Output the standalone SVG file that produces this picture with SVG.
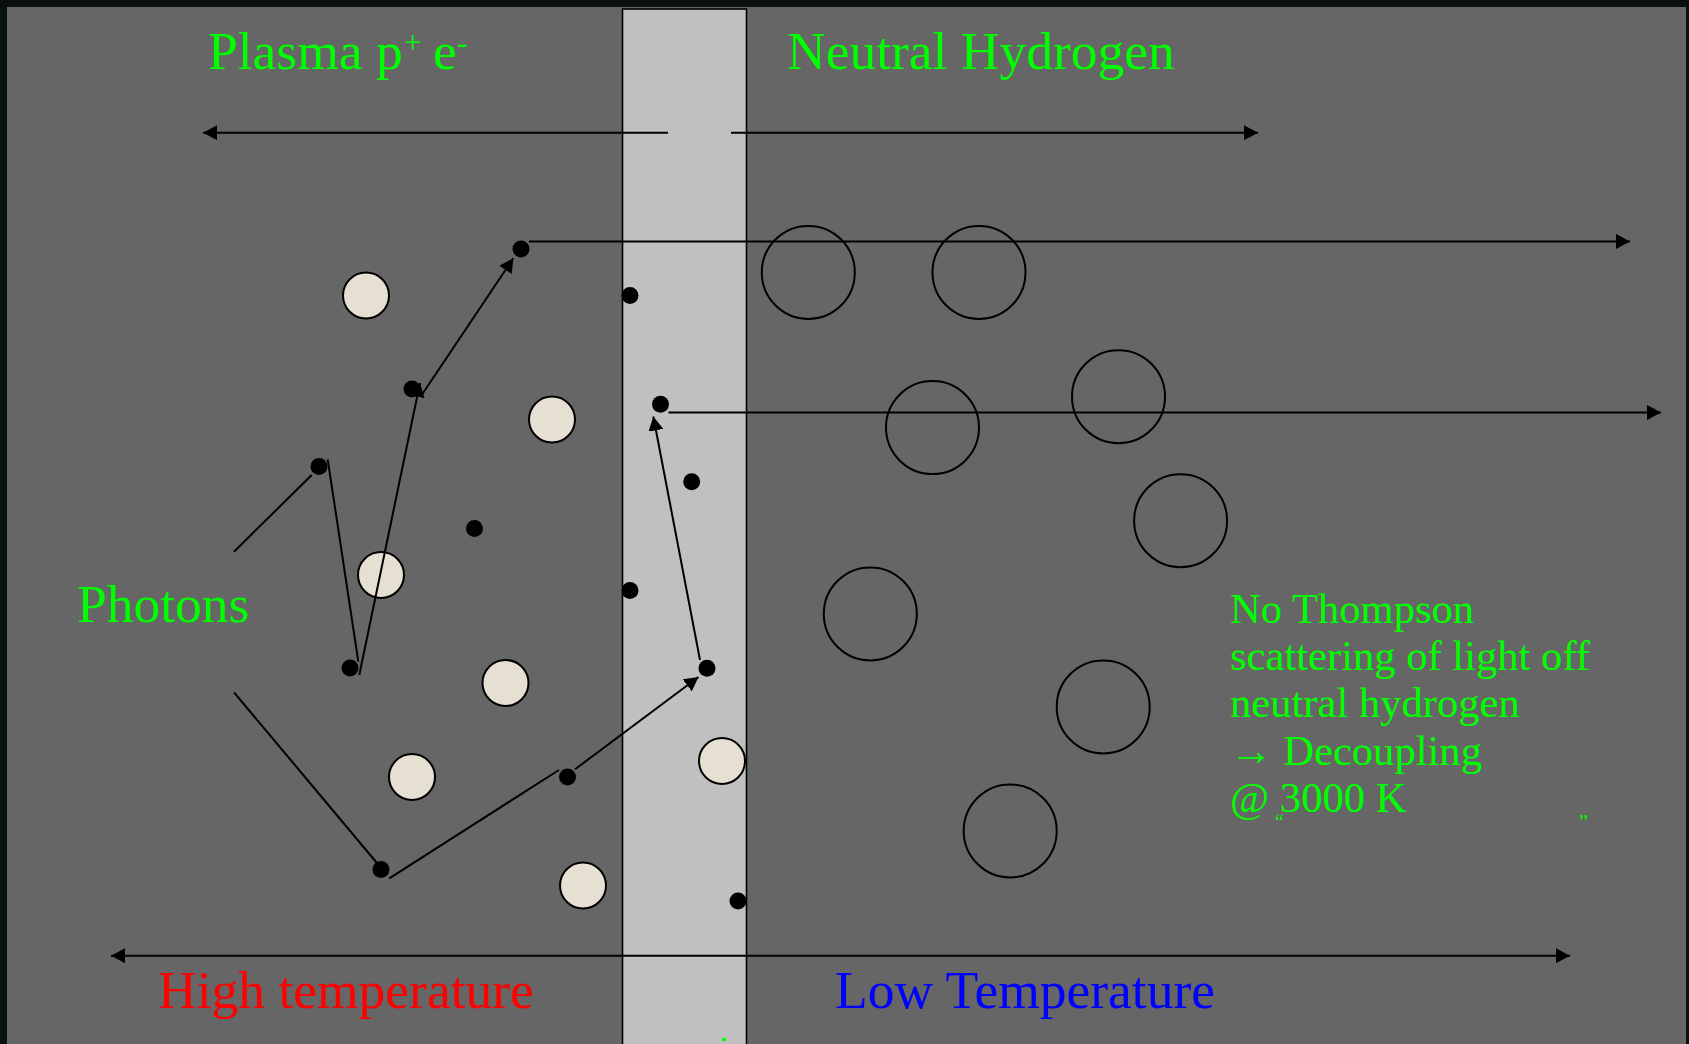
<svg xmlns="http://www.w3.org/2000/svg" width="1689" height="1044" viewBox="0 0 1689 1044">
  <style>
    .lbl { font-family: "Liberation Serif", "Times New Roman", serif; font-size: 53.5px; }
    .note { font-family: "Liberation Serif", "Times New Roman", serif; font-size: 42.6px; fill: #00ff00; }
    .quote { font-family: "Liberation Serif", "Times New Roman", serif; font-size: 20px; fill: #00ff00; }
    .green { fill: #00ff00; }
    .dot { fill: #000000; }
    .ion { fill: #e6e0d3; stroke: #000000; stroke-width: 2; }
    .atom { fill: none; stroke: #000000; stroke-width: 2; }
    .ray { stroke: #000000; stroke-width: 2; fill: none; }
  </style>
  <defs>
    <marker id="head" markerUnits="userSpaceOnUse" markerWidth="15" markerHeight="15" refX="14" refY="7.5" orient="auto-start-reverse">
      <path d="M0,0 L14,7.5 L0,15 z" fill="#000000"/>
    </marker>
  </defs>

  <!-- backdrop and panels -->
  <rect x="0" y="0" width="1689" height="1044" fill="#08110b"/>
  <rect x="7" y="7" width="1679" height="1040" fill="#666666"/>
  <rect id="transition-band" x="622.5" y="9" width="124" height="1040" fill="#c0c0c0" stroke="#000000" stroke-width="1.6"/>

  <!-- region titles -->
  <g id="title-plasma">
    <text class="lbl green" x="208" y="69">Plasma p<tspan x="404" dy="-16" font-size="31">+</tspan><tspan x="433" dy="16">e</tspan><tspan x="457" dy="-16" font-size="31">-</tspan></text>
  </g>
  <g id="title-neutral">
    <text class="lbl green" x="787" y="69">Neutral Hydrogen</text>
  </g>
  <g id="label-photons">
    <text class="lbl green" x="77" y="622">Photons</text>
  </g>
  <g id="label-high">
    <text class="lbl" x="158" y="1008" fill="#ff0000">High temperature</text>
  </g>
  <g id="label-low">
    <text class="lbl" x="835" y="1008" fill="#0000ff">Low Temperature</text>
  </g>
  <g id="note-decoupling">
    <text class="note" x="1230" y="623">No Thompson</text>
    <text class="note" x="1230" y="670">scattering of light off</text>
    <text class="note" x="1230" y="717">neutral hydrogen</text>
    <text class="note" x="1230" y="765">→ Decoupling</text>
    <text class="note" x="1230" y="812">@ 3000 K</text>
    <text class="quote" x="1275" y="829">“</text>
    <text class="quote" x="1579" y="829">”</text>
  </g>
  <rect x="722" y="1038" width="4" height="3" fill="#00ff00"/>

  <!-- protons (plasma side) -->
  <g id="protons">
    <circle class="ion" cx="366" cy="295.5" r="23"/>
    <circle class="ion" cx="552" cy="419.5" r="23"/>
    <circle class="ion" cx="381" cy="575" r="23"/>
    <circle class="ion" cx="505.5" cy="683" r="23"/>
    <circle class="ion" cx="412" cy="777" r="23"/>
    <circle class="ion" cx="583" cy="885.5" r="23"/>
    <circle class="ion" cx="722" cy="761" r="23"/>
  </g>

  <!-- electrons -->
  <g id="electrons">
    <circle class="dot" cx="521" cy="249" r="8.5"/>
    <circle class="dot" cx="412" cy="389" r="8.5"/>
    <circle class="dot" cx="319" cy="466.5" r="8.5"/>
    <circle class="dot" cx="474.5" cy="528.5" r="8.5"/>
    <circle class="dot" cx="350" cy="668" r="8.5"/>
    <circle class="dot" cx="630" cy="295.5" r="8.5"/>
    <circle class="dot" cx="660.5" cy="404.3" r="8.5"/>
    <circle class="dot" cx="691.7" cy="481.7" r="8.5"/>
    <circle class="dot" cx="630" cy="590.5" r="8.5"/>
    <circle class="dot" cx="707" cy="668.3" r="8.5"/>
    <circle class="dot" cx="567.5" cy="777" r="8.5"/>
    <circle class="dot" cx="381" cy="869.5" r="8.5"/>
    <circle class="dot" cx="738" cy="901" r="8.5"/>
  </g>

  <!-- neutral hydrogen atoms -->
  <g id="atoms">
    <circle class="atom" cx="808.3" cy="272.4" r="46.5"/>
    <circle class="atom" cx="979" cy="272.4" r="46.5"/>
    <circle class="atom" cx="932.5" cy="427.6" r="46.5"/>
    <circle class="atom" cx="1118.5" cy="396.7" r="46.5"/>
    <circle class="atom" cx="1180.6" cy="520.7" r="46.5"/>
    <circle class="atom" cx="870.3" cy="613.9" r="46.5"/>
    <circle class="atom" cx="1103.2" cy="706.9" r="46.5"/>
    <circle class="atom" cx="1010.2" cy="830.9" r="46.5"/>
  </g>

  <!-- connectors: region arrows, photon paths, free-streaming rays -->
  <g id="connectors">
    <line class="ray" x1="668" y1="132.7" x2="203" y2="132.7" marker-end="url(#head)"/>
    <line class="ray" x1="731" y1="132.7" x2="1258" y2="132.7" marker-end="url(#head)"/>
    <line class="ray" stroke-width="2.6" x1="111" y1="955.7" x2="1570" y2="955.7" marker-start="url(#head)" marker-end="url(#head)"/>

    <!-- upper photon path -->
    <line class="ray" x1="234" y1="551.7" x2="311.7" y2="475"/>
    <line class="ray" x1="327.7" y1="459.3" x2="358.3" y2="661.7"/>
    <line class="ray" x1="359.3" y1="675" x2="420" y2="383" marker-end="url(#head)"/>
    <line class="ray" x1="421.7" y1="395" x2="513.3" y2="258.3" marker-end="url(#head)"/>
    <line class="ray" x1="529" y1="241.4" x2="1630" y2="241.4" marker-end="url(#head)"/>

    <!-- lower photon path -->
    <line class="ray" x1="234" y1="692.3" x2="378.6" y2="865"/>
    <line class="ray" x1="389.3" y1="878.3" x2="559" y2="770"/>
    <line class="ray" x1="575" y1="769.3" x2="698.5" y2="677" marker-end="url(#head)"/>
    <line class="ray" x1="700" y1="660" x2="653.3" y2="416.5" marker-end="url(#head)"/>
    <line class="ray" x1="668.5" y1="412.4" x2="1661" y2="412.4" marker-end="url(#head)"/>
  </g>
</svg>
